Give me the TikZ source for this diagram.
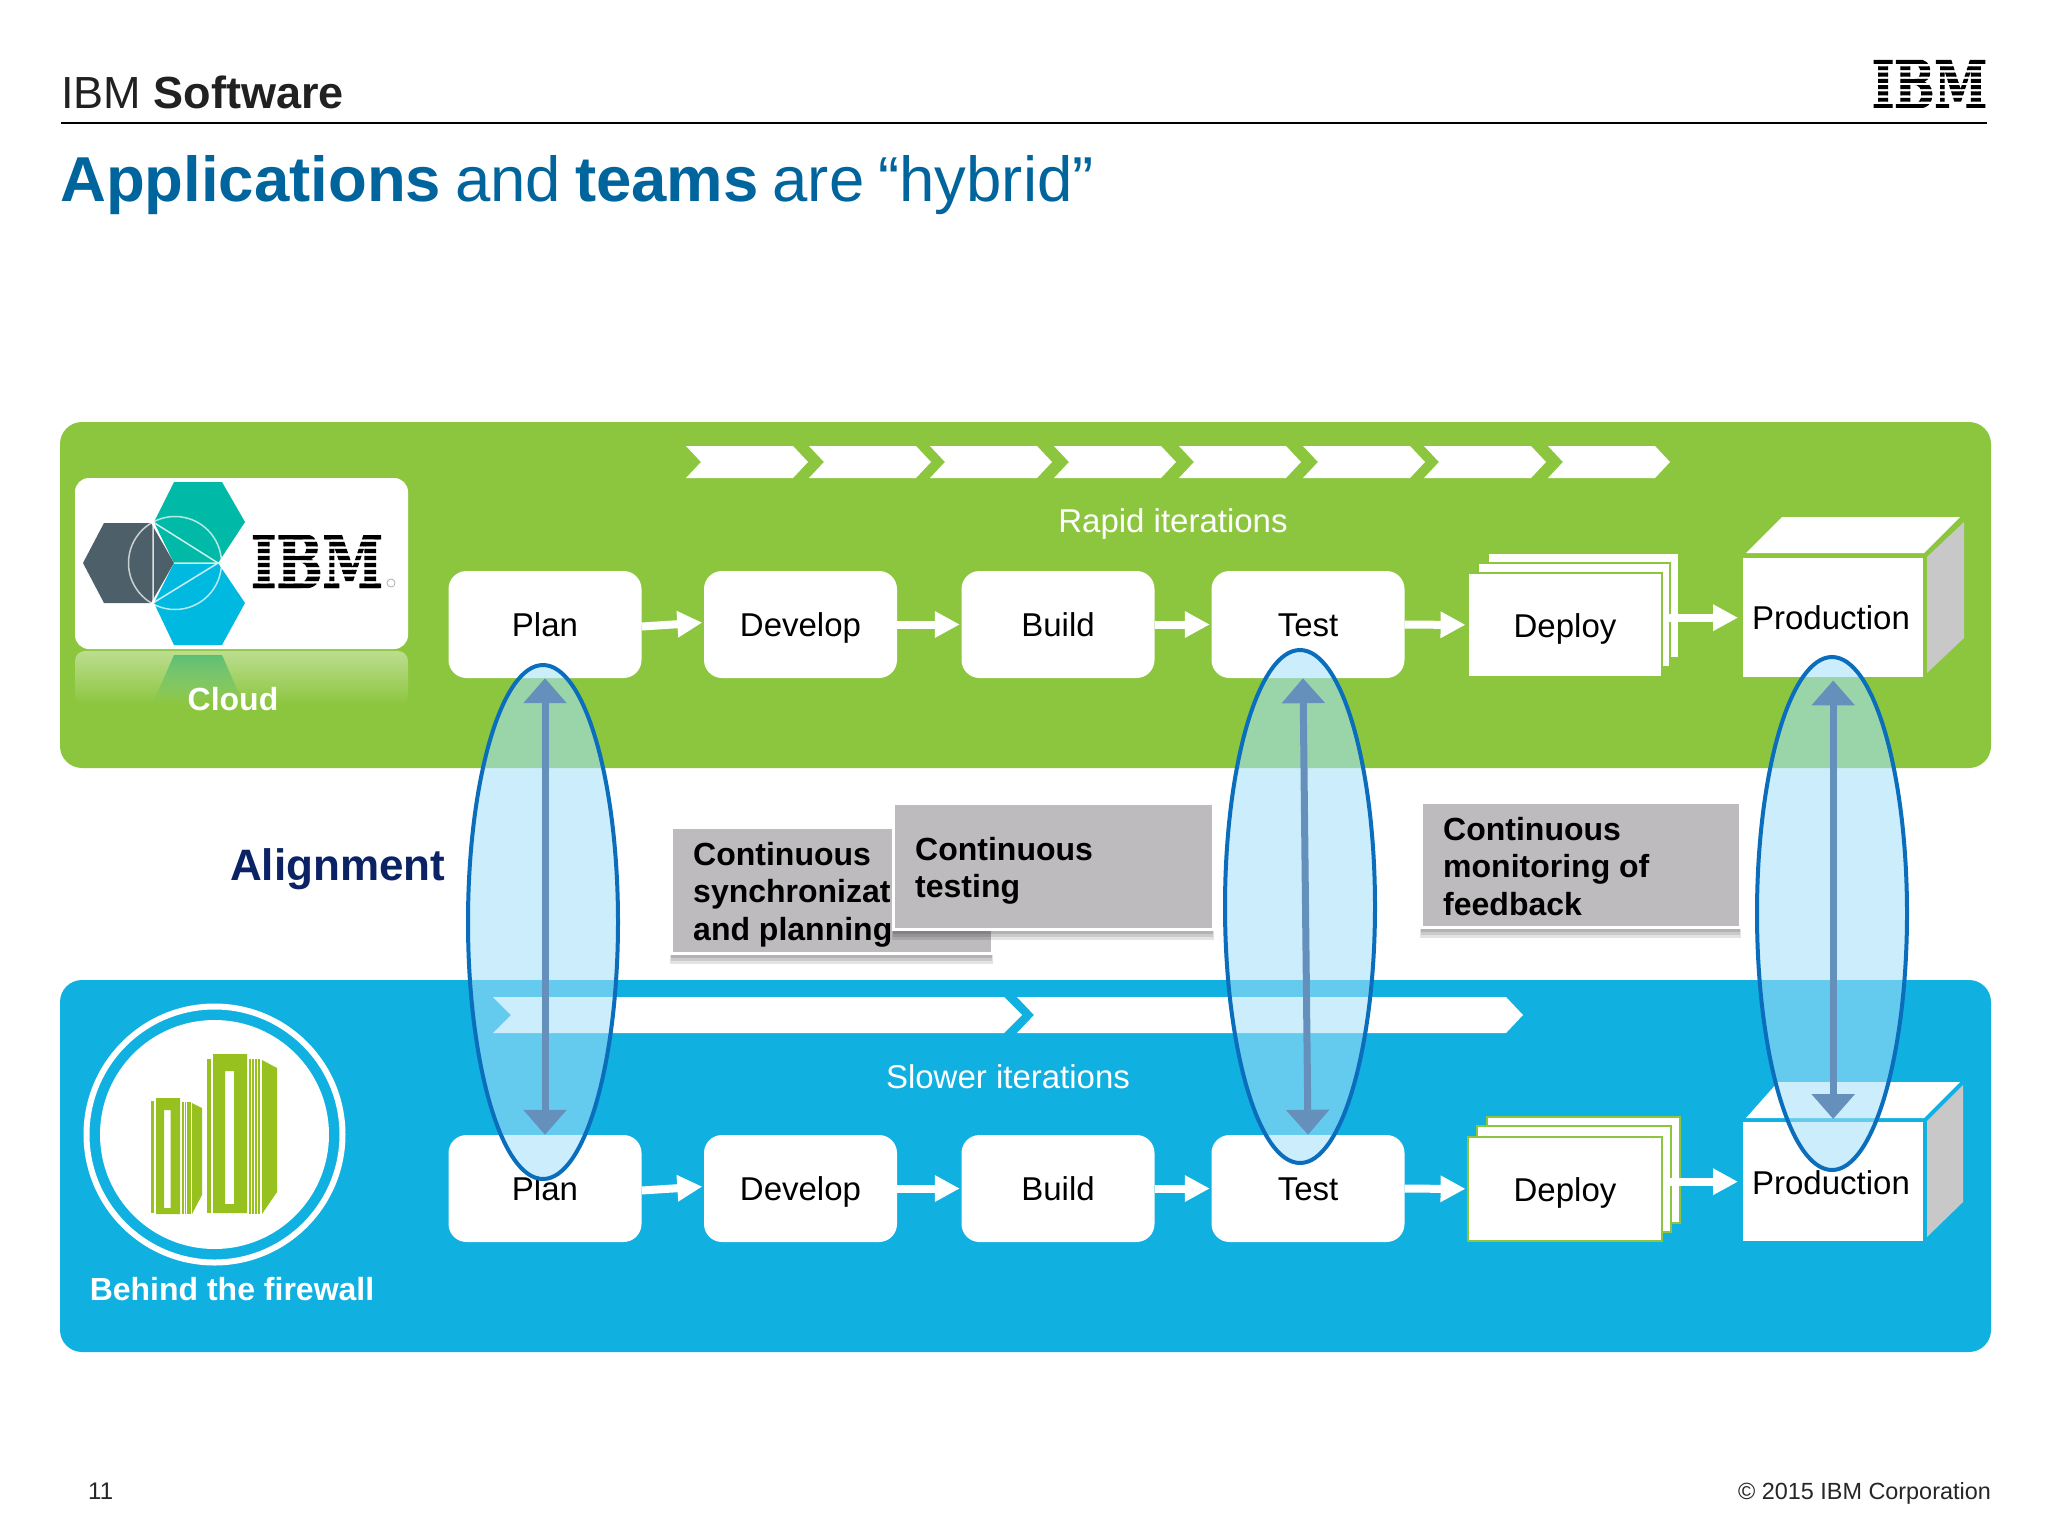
\documentclass[tikz,border=0pt]{standalone}
\usepackage{fontspec}
\setmainfont{Liberation Sans}
\newfontfamily\slabfont{DejaVu Serif Bold}[FakeBold=2.5]
\usetikzlibrary{arrows.meta,shapes.geometric,fadings}
\definecolor{panelgreen}{HTML}{8CC63F}
\definecolor{panelblue}{HTML}{10B0E0}
\definecolor{titleblue}{HTML}{00649D}
\definecolor{navy}{HTML}{0B2265}
\definecolor{graybox}{HTML}{BDBBBD}
\definecolor{sidegray}{HTML}{C8C8C8}
\definecolor{ovalfill}{HTML}{A6E1FA}
\definecolor{ovalline}{HTML}{0A6EBD}
\definecolor{linkblue}{HTML}{6590BC}
\definecolor{servergreen}{HTML}{97C11F}
\definecolor{hexteal}{HTML}{00B9A7}
\definecolor{hexcyan}{HTML}{00B9E0}
\definecolor{hexdark}{HTML}{4D5F69}
\definecolor{reflecthex}{HTML}{3FB56A}
\newcommand{\pxfont}[1]{\fontsize{#1}{#1}\selectfont}
% IBM striped mark: left, top, width, height, name
\newcommand{\ibmmark}[5]{%
  \begin{scope}
    \path[clip]
      ({#1},{#2}) rectangle ({#1+#3},{#2+#4*0.62/7.62})
      ({#1},{#2+#4*1/7.62}) rectangle ({#1+#3},{#2+#4*1.62/7.62})
      ({#1},{#2+#4*2/7.62}) rectangle ({#1+#3},{#2+#4*2.62/7.62})
      ({#1},{#2+#4*3/7.62}) rectangle ({#1+#3},{#2+#4*3.62/7.62})
      ({#1},{#2+#4*4/7.62}) rectangle ({#1+#3},{#2+#4*4.62/7.62})
      ({#1},{#2+#4*5/7.62}) rectangle ({#1+#3},{#2+#4*5.62/7.62})
      ({#1},{#2+#4*6/7.62}) rectangle ({#1+#3},{#2+#4*6.62/7.62})
      ({#1},{#2+#4*7/7.62}) rectangle ({#1+#3},{#2+#4*7.62/7.62});
    \node[inner sep=0pt,outer sep=0pt] (#5) at ({#1+#3/2},{#2+#4/2})
      {\resizebox{#3pt}{#4pt}{\slabfont IBM}};
  \end{scope}}
\tikzset{
  panel/.style={rounded corners=22pt},
  stepbox/.style={fill=white,rounded corners=18pt,minimum width=193pt,minimum height=107pt,
    inner sep=0pt,text height=24pt,text depth=0pt,font=\pxfont{33},text=black},
  stackcard/.style={fill=white,draw=panelgreen,line width=2pt,minimum width=194pt,minimum height=104pt,
    inner sep=0pt,text height=24pt,text depth=0pt,font=\pxfont{33},text=black},
  stackback/.style={fill=white,draw=panelgreen,line width=2pt},
  cubefront/.style={fill=white,minimum width=180pt,minimum height=119pt,inner sep=0pt},
  cubetop/.style={fill=white},
  cubeside/.style={fill=sidegray},
  flowlink/.style={draw=white,line width=8pt,-{Triangle[length=25pt,width=25pt]},shorten >=1.5pt},
  chevron/.style={fill=white},
  steptext/.style={font=\pxfont{33},text=black,inner sep=0pt,anchor=base},
  iterlabel/.style={font=\pxfont{33},text=white,inner sep=0pt,anchor=base},
  notebox/.style={fill=graybox,draw=white,line width=3pt},
  noteshade/.style={fill=black,opacity=.11},
  notetext/.style={font=\bfseries\fontsize{32}{37.5}\selectfont,text=black,align=left,inner sep=0pt,anchor=north west},
  oval/.style={ellipse,draw=ovalline,line width=4pt,fill=ovalfill,fill opacity=.57,
    minimum width=150pt,inner sep=0pt},
  alignlink/.style={draw=linkblue,line width=7pt,
    {Triangle[length=25pt,width=42pt]}-{Triangle[length=25pt,width=42pt]}},
}
% gray note card with a soft shadow: left, top, right, bottom
\newcommand{\notecard}[4]{%
  \fill[noteshade] ({#1-1},{#2+8}) rectangle ({#3+1},{#4+11});
  \fill[noteshade] ({#1},{#2+8}) rectangle ({#3},{#4+8});
  \fill[noteshade] ({#1},{#2+6}) rectangle ({#3},{#4+5});
  \draw[notebox] (#1,#2) rectangle (#3,#4);}
\begin{document}
\begin{tikzpicture}[x=1pt,y=-1pt]
\useasboundingbox (0,0) rectangle (2048,1536);
\fill[white] (0,0) rectangle (2048,1536);

% header
\node[inner sep=0pt,anchor=base west,text=black!87,font=\pxfont{45}] (brand) at (61,109) {IBM \textbf{Software}};
\ibmmark{1872}{60}{115}{48}{ibmtop}
\coordinate (ruleleft) at (61,123);
\coordinate (ruleright) at (1987,123);
\draw[black,line width=2.5pt] (ruleleft) -- (ruleright);
\node[inner sep=0pt,anchor=base west,text=titleblue,font=\pxfont{63.5}] (title) at (60,201)
  {\textbf{Applications}\hspace{.22em}and\hspace{.22em}\textbf{teams}\hspace{.22em}are\hspace{.22em}“hybrid”};

% panels
\fill[panelgreen,panel] (60,422) rectangle (1991,768);
\fill[panelblue,panel] (60,980) rectangle (1991,1352);

% cloud logo
\fill[white,opacity=.42,path fading=south,rounded corners=10pt] (75,651) rectangle (408,705);
\fill[reflecthex,opacity=.75,path fading=south] (174,655) -- (222,655) -- (243,703) -- (153,703) -- cycle;
\fill[white,rounded corners=14pt] (75,478) rectangle (408,649);
\fill[hexdark] (83,563) -- (104,523) -- (151,523) -- (174,563) -- (151,603) -- (104,603) -- cycle;
\fill[hexteal] (154,522) -- (174,482) -- (222,482) -- (245,522) -- (218,563) -- (174,563) -- cycle;
\fill[hexcyan] (154,603) -- (174,563) -- (218,563) -- (245,603) -- (222,645) -- (174,645) -- cycle;
\draw[white,opacity=.7,line width=1.5pt] (175,563) circle (46.5);
\draw[white,opacity=.8,line width=1.5pt] (153,523) -- (153,603) (153,522) -- (218,563) -- (153,603) (174,563) -- (218,563);
\ibmmark{251}{535}{132}{53}{ibmcloud}
\draw[black!40,line width=.6pt] (391,583) circle (4);
\node[inner sep=0pt,anchor=base,text=white,font=\bfseries\pxfont{32}] (cloudlabel) at (233,710) {Cloud};

% firewall badge
\draw[white,line width=6pt] (214.5,1134.5) circle (128);
\fill[white] (214.5,1134.5) circle (114.5);
\fill[servergreen,even odd rule] (213,1054) rectangle (247,1213) (225,1071) rectangle (234,1204);
\fill[servergreen] (207,1059) rectangle (211,1213);
\foreach \sx in {249,252,255,258} {\fill[servergreen] (\sx,1059) rectangle (\sx+2.2,1214);}
\fill[servergreen] (262,1060) -- (277,1068) -- (277,1192) -- (262,1214) -- cycle;
\fill[servergreen,even odd rule] (156,1098) rectangle (180,1214) (164,1110) rectangle (170.5,1208);
\fill[servergreen] (151,1101) rectangle (154,1213);
\foreach \sx in {182,184.5,187,189.2} {\fill[servergreen] (\sx,1102) rectangle (\sx+1.8,1214);}
\fill[servergreen] (192,1103) -- (202,1108) -- (202,1195) -- (192,1214) -- cycle;
\node[inner sep=0pt,anchor=base,text=white,font=\bfseries\pxfont{32}] (firewalllabel) at (232,1300) {Behind the firewall};

% chevrons
\foreach \cx in {686,809,930,1054,1179,1303,1424,1548} {
  \fill[chevron] (\cx,446) -- (\cx+107,446) -- (\cx+122,462) -- (\cx+107,478) -- (\cx,478) -- (\cx+15,462) -- cycle;
}
\fill[chevron] (493,997) -- (1004,997) -- (1022,1015) -- (1004,1033) -- (493,1033) -- (511,1015) -- cycle;
\fill[chevron] (1017,997) -- (1506,997) -- (1523,1015) -- (1506,1033) -- (1017,1033) -- (1034,1015) -- cycle;
\node[iterlabel] (rapid) at (1173,532) {Rapid iterations};
\node[iterlabel] (slower) at (1008,1088) {Slower iterations};

% upper row
\node[stepbox] (plan) at (545,624.5) {Plan};
\node[stepbox] (develop) at (800.5,624.5) {Develop};
\node[stepbox] (build) at (1058,624.5) {Build};
\node[stepbox] (test) at (1308,624.5) {Test};
\fill[stackback] (1488,553) rectangle (1679,658);
\fill[stackback] (1478,563) rectangle (1670,667);
\node[stackcard,anchor=north west] (deploy) at (1467,572) {Deploy};
\fill[cubetop] (1746,553) -- (1782,517) -- (1960,517) -- (1924,553) -- cycle;
\fill[cubeside] (1927,557) -- (1964,522) -- (1964,638) -- (1927,673) -- cycle;
\node[cubefront,anchor=north west] (prod) at (1743,558) {};
\node[steptext] (prodtext) at (1831,629) {Production};

\draw[flowlink] ([yshift=-2pt]plan.east) -- ([yshift=2pt]develop.west);
\draw[flowlink] (develop) -- (build);
\draw[flowlink] (build) -- (test);
\draw[flowlink] (test) -- (deploy);
\draw[flowlink,shorten >=5pt] (deploy.east |- prod.west) -- (prod.west);

% lower row
\node[stepbox] (planb) at (545,1188.5) {Plan};
\node[stepbox] (developb) at (800.5,1188.5) {Develop};
\node[stepbox] (buildb) at (1058,1188.5) {Build};
\node[stepbox] (testb) at (1308,1188.5) {Test};
\fill[stackback] (1487,1117) rectangle (1680,1223);
\fill[stackback] (1477,1126) rectangle (1671,1232);
\node[stackcard,anchor=north west] (deployb) at (1467,1136) {Deploy};
\fill[cubetop] (1746,1118) -- (1778,1082) -- (1960,1082) -- (1924,1118) -- cycle;
\fill[cubeside] (1927,1121) -- (1963,1085) -- (1963,1202) -- (1927,1237) -- cycle;
\node[cubefront,anchor=north west] (prodb) at (1743,1122) {};
\node[steptext] (prodbtext) at (1831,1194) {Production};

\draw[flowlink] ([yshift=-2pt]planb.east) -- ([yshift=2pt]developb.west);
\draw[flowlink] (developb) -- (buildb);
\draw[flowlink] (buildb) -- (testb);
\draw[flowlink] (testb) -- (deployb);
\draw[flowlink,shorten >=5pt] (deployb.east |- prodb.west) -- (prodb.west);

% notes
\node[inner sep=0pt,anchor=base west,text=navy,font=\bfseries\pxfont{44}] (alignment) at (230,880) {Alignment};
\notecard{671}{827}{992}{953}
\node[notetext] (note1) at (693,842) {Continuous\\synchronizat\\and planning};
\notecard{893}{803}{1213}{929}
\node[notetext] (note2) at (915,837) {Continuous\\testing};
\notecard{1421}{802}{1740}{927}
\node[notetext] (note3) at (1443,817) {Continuous\\monitoring of\\feedback};

% alignment ovals
\node[oval,minimum height=514pt] (ovalplan) at (543,922) {};
\node[oval,minimum height=513pt] (ovaltest) at (1300,906.5) {};
\node[oval,minimum height=513pt] (ovalprod) at (1832,913.5) {};
\draw[alignlink] (plan.south) -- (planb.north);
\draw[alignlink] ([xshift=-5pt]test.south) -- (testb.north);
\draw[alignlink,shorten <=3pt,shorten >=3pt] (prod.south) -- (prodb.north);

% footer
\node[inner sep=0pt,anchor=base west,text=black!85,font=\pxfont{24}] (pagenum) at (88,1499) {11};
\node[inner sep=0pt,anchor=base east,text=black!85,font=\pxfont{23.4}] (copyright) at (1991,1499) {© 2015 IBM Corporation};
\end{tikzpicture}
\end{document}
